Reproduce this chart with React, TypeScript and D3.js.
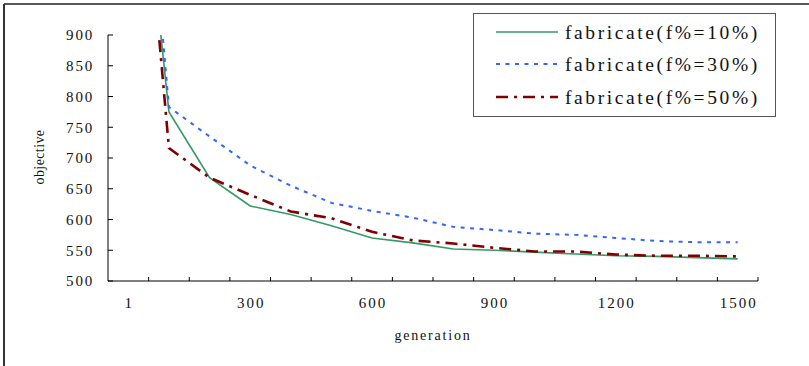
import * as d3 from "d3";
import { useRef, useEffect } from "react";

// generations on the category axis
const generations = [1, 100, 200, 300, 400, 500, 600, 700, 800, 900, 1000, 1100, 1200, 1300, 1400, 1500];

// only every third category gets a label
const labelled = [1, 300, 600, 900, 1200, 1500];

// objective values per series (first point lies above the axis max and is clipped)
const f10 = [1400, 775, 668, 622, 608, 590, 570, 562, 552, 550, 547, 544, 541, 540, 538, 536];
const f30 = [1540, 783, 735, 688, 655, 627, 614, 603, 588, 583, 577, 575, 570, 565, 563, 563];
const f50 = [1460, 716, 668, 640, 613, 602, 580, 566, 561, 554, 548, 548, 543, 541, 541, 540];

const seriesNames = ["fabricate(f%=10%)", "fabricate(f%=30%)", "fabricate(f%=50%)"];

const yTicks = [500, 550, 600, 650, 700, 750, 800, 850, 900];

export default function App() {
    const svgRef = useRef<SVGSVGElement>(null);

    useEffect(() => {
        const svg = d3.select(svgRef.current);
        svg.selectAll("*").remove();

        const font = "Liberation Serif";

        // plot area bounds
        const left = 108, right = 758, top = 35, bottom = 281;

        const x = d3.scaleBand<number>().domain(generations).range([left, right]).padding(0);
        const y = d3.scaleLinear().domain([500, 900]).range([bottom, top]);
        const cx = (g: number) => (x(g) as number) + x.bandwidth() / 2;

        // outer chart frame (right/bottom edges lie outside the picture)
        svg.append("line").attr("x1", 4).attr("x2", 809).attr("y1", 4).attr("y2", 4).attr("stroke", "#222").attr("stroke-width", 1.5);
        svg.append("line").attr("x1", 4).attr("x2", 4).attr("y1", 4).attr("y2", 366).attr("stroke", "#333").attr("stroke-width", 2);

        svg.append("defs").append("clipPath").attr("id", "plotclip")
            .append("rect").attr("x", left).attr("y", top).attr("width", right - left).attr("height", bottom - top);

        const styles = [
            { data: f10, color: "#339966", width: 1.6, dash: null },
            { data: f30, color: "#3366ff", width: 2, dash: "4,5.5" },
            { data: f50, color: "#800000", width: 2.6, dash: "12,6,3,6" },
        ];

        const line = d3.line<number>().x((_, i) => cx(generations[i])).y(d => y(d));

        const plot = svg.append("g").attr("clip-path", "url(#plotclip)");
        styles.forEach(s => {
            plot.append("path").datum(s.data).attr("d", line).attr("fill", "none")
                .attr("stroke", s.color).attr("stroke-width", s.width)
                .attr("stroke-dasharray", s.dash);
        });

        // y axis
        const ax = svg.append("g").attr("font-family", font).attr("fill", "#111");
        ax.append("line").attr("x1", left).attr("x2", left).attr("y1", top).attr("y2", bottom).attr("stroke", "#000").attr("stroke-width", 1);
        yTicks.forEach(t => {
            ax.append("line").attr("x1", left).attr("x2", left + 5).attr("y1", y(t)).attr("y2", y(t)).attr("stroke", "#000");
            ax.append("text").attr("x", 94).attr("y", y(t)).attr("dy", "0.35em").attr("text-anchor", "end")
                .attr("font-size", 15).attr("letter-spacing", 1.8).text(t);
        });

        // x axis with tick marks between categories
        ax.append("line").attr("x1", left).attr("x2", right).attr("y1", bottom).attr("y2", bottom).attr("stroke", "#000");
        generations.forEach(g => {
            const bx = (x(g) as number) + x.bandwidth();
            ax.append("line").attr("x1", bx).attr("x2", bx).attr("y1", bottom).attr("y2", bottom - 4).attr("stroke", "#000");
        });
        labelled.forEach(g => {
            ax.append("text").attr("x", cx(g) + 1).attr("y", 303).attr("dy", "0.35em").attr("text-anchor", "middle")
                .attr("font-size", 15).attr("letter-spacing", 2).text(g);
        });

        // axis titles
        ax.append("text").attr("x", 433).attr("y", 335).attr("dy", "0.35em").attr("text-anchor", "middle")
            .attr("font-size", 14).attr("letter-spacing", 1.8).text("generation");
        ax.append("text").attr("transform", "translate(39,157) rotate(-90)").attr("dy", "0.35em").attr("text-anchor", "middle")
            .attr("font-size", 14).attr("letter-spacing", 0.4).text("objective");

        // legend
        const lg = svg.append("g").attr("font-family", font).attr("fill", "#111");
        lg.append("rect").attr("x", 473.5).attr("y", 13.5).attr("width", 302).attr("height", 103)
            .attr("fill", "#fff").attr("stroke", "#555").attr("stroke-width", 1);
        const rows = [32, 64, 97];
        styles.forEach((s, i) => {
            lg.append("line").attr("x1", 496).attr("x2", 558).attr("y1", rows[i]).attr("y2", rows[i])
                .attr("stroke", s.color).attr("stroke-width", s.width).attr("stroke-dasharray", s.dash);
            lg.append("text").attr("x", 565).attr("y", rows[i]).attr("dy", "0.35em")
                .attr("font-size", 19.5).attr("letter-spacing", 2.6).text(seriesNames[i]);
        });
    }, []);

    return (
        <svg ref={svgRef} width={809} height={366} style={{ position: "absolute", left: 0, top: 0, background: "#fff" }} />
    );
}
